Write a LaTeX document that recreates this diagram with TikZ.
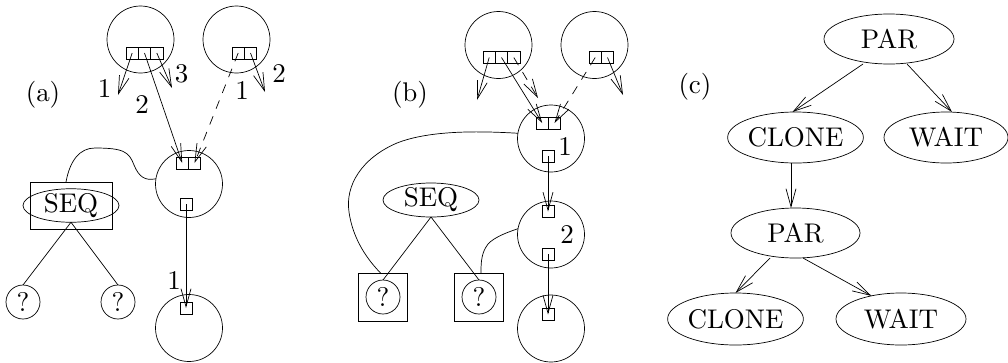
\documentclass[tikz,border=0pt]{standalone}
\usetikzlibrary{shapes.geometric,arrows.meta}
\font\bigrm=cmr10 at 27pt
\begin{document}
\begin{tikzpicture}[x=1pt,y=-1pt,line width=0.7pt,
  every node/.style={font=\bigrm,inner sep=0pt,outer sep=0pt},
  blob/.style={draw,circle,minimum size=67pt},
  cell/.style={draw,rectangle,minimum width=12.3pt,minimum height=12pt},
  qm/.style={draw,circle,minimum size=34pt},
  qbox/.style={draw,rectangle,minimum width=49pt,minimum height=48pt},
  oval/.style={draw,ellipse,minimum width=130pt,minimum height=50pt},
  seqoval/.style={draw,ellipse,minimum width=96pt,minimum height=33pt},
  arr/.style={-{Straight Barb[length=18pt,width=10pt]}},
  dsh/.style={dash pattern=on 9pt off 8pt}]
\useasboundingbox (0,0) rectangle (1008,362);

% ---------------- (a) ----------------
\node (la) at (43,95) {(a)};
\node[blob] (a1) at (140.5,39.5) {};
\node[cell] (a1c1) at (132.2,53) {};
\node[cell] (a1c2) at (144.5,53) {};
\node[cell] (a1c3) at (156.8,53) {};
\node[blob] (a2) at (236.5,39.5) {};
\node[cell] (a2c1) at (238.2,53) {};
\node[cell] (a2c2) at (250.5,53) {};
\node[blob] (a3) at (189,184) {};
\node[cell] (a3cL) at (182.2,163) {};
\node[cell] (a3cR) at (194.5,163) {};
\node[cell] (a3b) at (186,204) {};
\node[blob] (a4) at (189,328) {};
\node[cell] (a4b) at (186,308) {};
\node[qbox,minimum width=82pt,minimum height=47pt] (seqboxA) at (71,205.5) {};
\node[seqoval] (seqA) at (71,205.5) {SEQ};
\node[qm] (qa1) at (23,302) {?};
\node[qm] (qa2) at (118,302) {?};
\coordinate (a1e1) at (118,95);
\coordinate (a1e3) at (172,88);
\coordinate (a2e2) at (265,92);
\draw[arr] (a1c1.center) -- (a1e1);
\draw[arr] (a1c2.center) -- (a3cL.center);
\draw[arr] (a1c3.center) -- (a1e3);
\draw[arr,dsh] (a2c1.center) -- (a3cR.center);
\draw[arr] (a2c2.center) -- (a2e2);
\draw[arr] (a3b.center) -- (a4b.center);
\node (n1) at (104.5,88.5) {1};
\node (n2) at (142,105) {2};
\node (n3) at (181.5,74) {3};
\node (n4) at (242,91) {1};
\node (n5) at (279,74) {2};
\node (n6) at (174,281) {1};
\draw (seqA.south) -- (qa1.north);
\draw (seqA.south) -- (qa2.north);
\draw ([xshift=-5pt]seqboxA.north) .. controls (70,160) and (80,148) .. (95,148)
  .. controls (124,148) and (129,152) .. (134,165)
  .. controls (139,177) and (145,181) .. (a3.171);

% ---------------- (b) ----------------
\node (lb) at (410,95) {(b)};
\node[blob] (b1) at (498.5,45) {};
\node[cell] (b1c1) at (489.2,57.5) {};
\node[cell] (b1c2) at (501.5,57.5) {};
\node[cell] (b1c3) at (513.8,57.5) {};
\node[blob] (b2) at (594.5,45) {};
\node[cell] (b2c1) at (595.2,57.5) {};
\node[cell] (b2c2) at (607.5,57.5) {};
\node[blob] (b3) at (551,138.5) {};
\node[cell] (b3cL) at (542.2,123) {};
\node[cell] (b3cR) at (554.5,123) {};
\node[cell] (b3b) at (548,156) {};
\node[blob] (b4) at (551,234.5) {};
\node[cell] (b4t) at (548,211.5) {};
\node[cell] (b4b) at (548,254) {};
\node[blob] (b5) at (551,328.5) {};
\node[cell] (b5b) at (548,314.5) {};
\node[seqoval,minimum height=34pt] (seqB) at (431,200) {SEQ};
\node[qbox] (qb1box) at (382.5,297) {};
\node[qm] (qb1) at (383,297) {?};
\node[qbox] (qb2box) at (478.5,297) {};
\node[qm] (qb2) at (479,297) {?};
\coordinate (b1e1) at (477,100);
\coordinate (b1e3) at (538,98);
\coordinate (b2e2) at (623,95);
\draw[arr] (b1c1.center) -- (b1e1);
\draw[arr] (b1c2.center) -- (b3cL.center);
\draw[arr,dsh] (b1c3.center) -- (b1e3);
\draw[arr,dsh] (b2c1.center) -- (b3cR.center);
\draw[arr] (b2c2.center) -- (b2e2);
\draw[arr] (b3b.center) -- (b4t.center);
\draw[arr] (b4b.center) -- (b5b.center);
\node (m1) at (565,147) {1};
\node (m2) at (567,235) {2};
\draw (seqB.south) -- (qb1.north);
\draw (seqB.south) -- (qb2.north);
\draw (b3.171) .. controls (480,131) and (430,130) .. (397,143)
  .. controls (362,158) and (345,185) .. (349,212)
  .. controls (353,240) and (368,260) .. ([xshift=-2pt]qb1box.north);
\draw (b4.170) .. controls (505,233) and (490,239) .. (486,247)
  .. controls (481,255) and (481,265) .. ([xshift=2.5pt]qb2box.north);

% ---------------- (c) ----------------
\node (lc) at (695,87) {(c)};
\node[oval] (par1) at (889,39) {PAR};
\node[oval,minimum width=129pt,minimum height=51pt] (clone1) at (795.5,137.5) {CLONE};
\node[oval,minimum width=124pt,minimum height=51pt] (wait1) at (946,137.5) {WAIT};
\node[oval,minimum width=129pt] (par2) at (795.5,233) {PAR};
\node[oval,minimum width=129pt,minimum height=52pt] (clone2) at (735.5,319) {CLONE};
\node[oval,minimum height=52pt] (wait2) at (901,319) {WAIT};
\draw[arr] ([xshift=-26pt]par1.south) -- ([xshift=-3pt]clone1.north);
\draw[arr] ([xshift=18pt]par1.south) -- ([xshift=6pt]wait1.north);
\draw[arr] ([xshift=-4.5pt]clone1.south) -- ([xshift=-4.5pt]par2.north);
\draw[arr] ([xshift=-25.5pt]par2.south) -- (clone2.north);
\draw[arr] ([xshift=7.5pt]par2.south) -- (wait2.142);
\end{tikzpicture}
\end{document}
